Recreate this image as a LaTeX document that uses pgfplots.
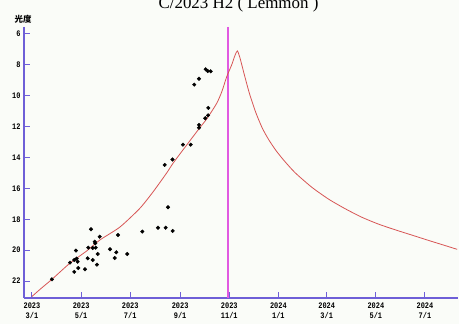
\documentclass[border=0pt]{standalone}
\usepackage{pgfplots}
\pgfplotsset{compat=1.18}
\usepackage{fontspec}
\setmainfont{Liberation Serif}
\newfontfamily\tickfont[FakeStretch=0.82]{Liberation Mono}
\newfontfamily\cjk{Noto Sans CJK JP}
\definecolor{axiscol}{RGB}{110,95,215}
\definecolor{curvecol}{RGB}{215,85,85}
\definecolor{vcol}{RGB}{225,90,225}
\definecolor{bgcol}{RGB}{250,252,248}
\begin{document}
\begin{tikzpicture}
\clip (0bp,0bp) rectangle (459bp,324bp);
\fill[bgcol] (0bp,0bp) rectangle (459bp,324bp);
\begin{axis}[
  at={(24bp,26bp)}, anchor=south west,
  scale only axis, width=434bp, height=271bp,
  xmin=-9.9, xmax=529, ymin=5.55, ymax=23.1, y dir=reverse,
  axis lines*=left,
  axis line style={draw=axiscol, line width=1.5bp},
  tick align=inside, major tick length=6bp,
  tick style={draw=axiscol, line width=1bp},
  ytick={6,8,10,12,14,16,18,20,22},
  yticklabel style={font=\tickfont\bfseries\fontsize{8.5}{9}\selectfont, /pgf/number format/assume math mode=true},
  xtick={0,61,122,184,245,306,366,427,488},
  xticklabels={{2023\\3/1},{2023\\5/1},{2023\\7/1},{2023\\9/1},{2023\\11/1},{2024\\1/1},{2024\\3/1},{2024\\5/1},{2024\\7/1}},
  xticklabel style={align=center, font=\tickfont\bfseries\fontsize{8.5}{10}\selectfont, yshift=-1bp},
  clip=false,
]
\addplot[draw=vcol, line width=1.3bp] coordinates {(243.4,5.55) (243.4,23.1)};
\addplot[draw=curvecol, line width=0.8bp, smooth, tension=0.4] coordinates {
(0,23.0) (12,22.45) (24.8,21.89) (47,20.85) (68,20.05) (84.4,19.34) (109.3,18.5)
(134,17.29) (150.6,16.21) (167.3,15.0) (175.5,14.35) (192,13.2) (208,12.1)
(217,11.5) (229.4,10.49) (236,9.7) (241.8,8.77) (248,8.0) (252,7.4) (255,7.1)
(258,7.5) (263.5,8.6) (270,9.85) (278,11.1) (286,12.1) (294,12.85) (303,13.55)
(313,14.2) (327,15.0) (348,15.95) (369,16.72) (390,17.35) (410,17.88) (431,18.33)
(452,18.7) (472,19.03) (493,19.38) (514,19.72) (528,19.95)};
\addplot[only marks, mark=*, mark size=1.8bp, black] coordinates {
(24.8,21.89) (47.2,20.81) (52.5,21.41) (52.5,20.64) (54.6,20.03) (55.5,20.55)
(56.7,20.75) (57.5,21.16) (65.8,21.24) (69.2,20.53) (69.9,19.84) (73.3,18.65)
(75.4,20.64) (75.4,19.86) (77.9,19.45) (78.6,19.56) (79.1,19.84) (80.7,20.94)
(81.6,20.25) (84.1,19.13) (96.9,19.94) (102.7,20.51) (104.7,20.14) (106.8,19.02)
(118.3,20.25) (137.0,18.80) (156.5,18.55) (166.0,18.55) (168.9,17.22) (174.7,18.76)
(164.8,14.48) (174.5,14.13) (187.5,13.17) (197.1,13.17) (207.4,11.89) (207.4,12.07)
(215.2,11.46) (218.6,11.27) (218.9,10.79) (201.5,9.28) (207.4,8.90) (215.7,8.29)
(218.2,8.40) (221.9,8.42)};
\end{axis}
\node[font=\cjk\bfseries\fontsize{8.5}{9}\selectfont, inner sep=0] at (23bp,305bp) {光度};
\node[font=\fontsize{17}{18}\selectfont, anchor=base, inner sep=0] at (238.5bp,315.5bp) {C/2023 H2 ( Lemmon )};
\end{tikzpicture}
\end{document}
